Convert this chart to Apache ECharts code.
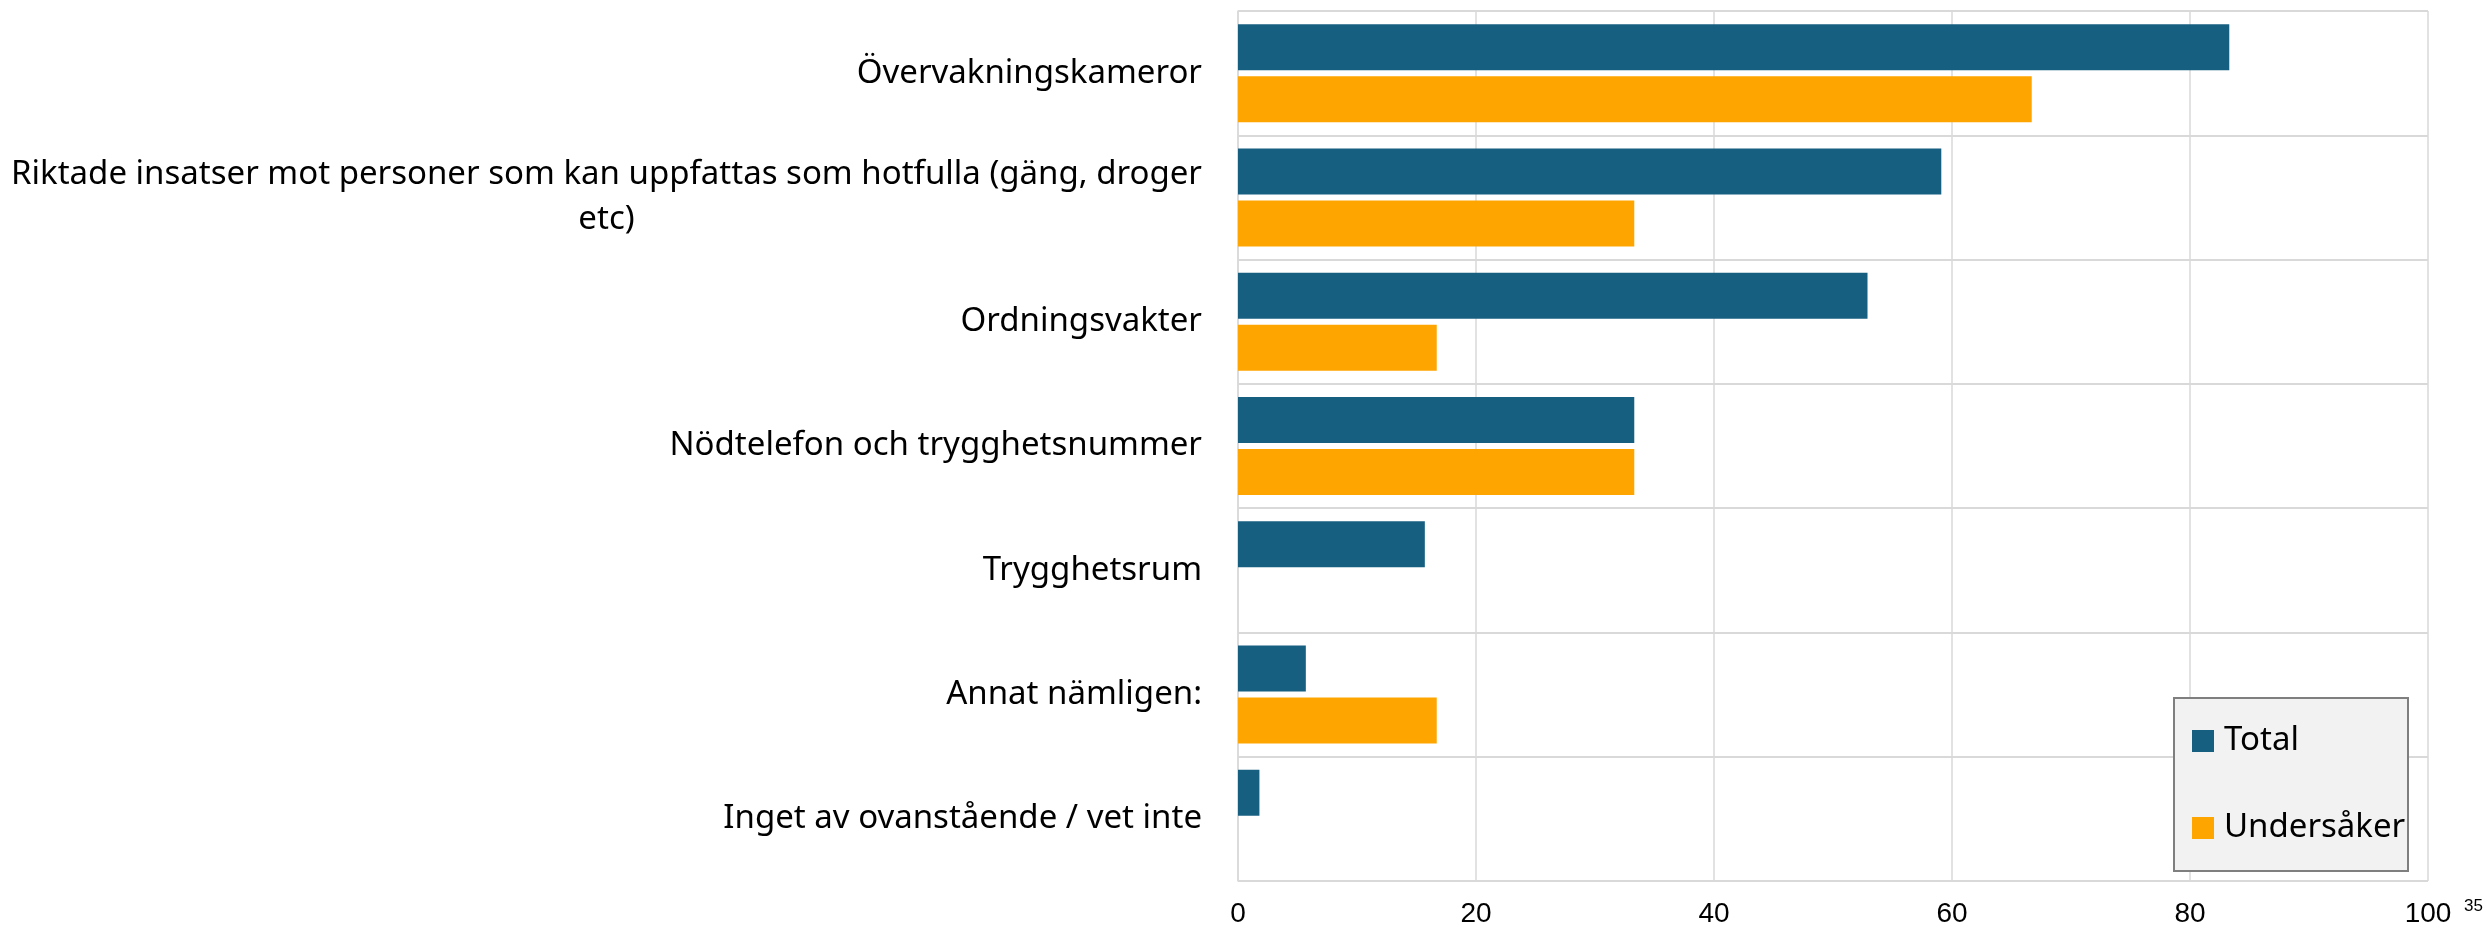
<!DOCTYPE html>
<html>
<head>
<meta charset="utf-8">
<title>Trygghetsåtgärder</title>
<script src="https://cdn.jsdelivr.net/npm/echarts@6/dist/echarts.min.js"></script>
<style>
    html, body { margin: 0; padding: 0; background: #fff; }
    #charts1 { width: 2492px; height: 929px; }
</style>
</head>
<body>
<div id="charts1"></div>
<script>
//kategorier
const categories = [
    'Övervakningskameror',
    'Riktade insatser mot personer som kan uppfattas som hotfulla (gäng, droger\netc)',
    'Ordningsvakter',
    'Nödtelefon och trygghetsnummer',
    'Trygghetsrum',
    'Annat nämligen:',
    'Inget av ovanstående / vet inte'
];
//serier (procent)
const totalValues = [83.3, 59.1, 52.9, 33.3, 15.7, 5.7, 1.8];
const undersakerValues = [66.7, 33.3, 16.7, 33.3, 0, 16.7, 0];
const seriesNames = ['Total', 'Undersåker'];
//x-axelns skalsteg
const xTicks = [0, 20, 40, 60, 80, 100];

const labelFont = '"Noto Sans", sans-serif';
const gridColor = '#d9d9d9';

let charts1 = echarts.init(document.getElementById('charts1'));
renderCharts1();

//radbrytna etiketter centreras rad för rad
function formatCategory(value) {
    return value.split('\n').map(function (line) {
        return '{c|' + line + '}';
    }).join('\n');
}

function renderCharts1() {
    let option = {
        animation: false,
        color: ['#175f80', '#ffa500'],
        grid: {
            left: 1238,
            right: 64,
            top: 11,
            bottom: 48
        },
        legend: {
            orient: 'vertical',
            left: 2192,
            top: 721,
            padding: 0,
            itemWidth: 22,
            itemHeight: 22,
            itemGap: 47,
            icon: 'rect',
            z: 5,
            data: seriesNames,
            textStyle: {
                fontFamily: labelFont,
                fontSize: 33,
                lineHeight: 40,
                padding: [0, 0, 0, 5],
                color: '#000'
            }
        },
        graphic: [
            {
                type: 'rect',
                z: 3,
                shape: { x: 2174, y: 698, width: 234, height: 173 },
                style: { fill: '#f2f2f2', stroke: '#7f7f7f', lineWidth: 2 }
            },
            {
                type: 'text',
                left: 2464,
                top: 898,
                style: {
                    text: '35',
                    fontFamily: '"Liberation Sans", Arial, sans-serif',
                    fontSize: 17,
                    fill: '#000'
                }
            }
        ],
        xAxis: {
            type: 'value',
            min: xTicks[0],
            max: xTicks[xTicks.length - 1],
            interval: xTicks[1] - xTicks[0],
            axisLine: { show: false },
            axisTick: { show: false },
            axisLabel: {
                margin: 19,
                fontFamily: '"Liberation Sans", Arial, sans-serif',
                fontSize: 28,
                color: '#000'
            },
            splitLine: {
                lineStyle: { color: gridColor, width: 1.5 }
            }
        },
        yAxis: {
            type: 'category',
            inverse: true,
            data: categories,
            axisLine: {
                show: true,
                lineStyle: { color: gridColor, width: 1.5 }
            },
            axisTick: { show: false },
            axisLabel: {
                margin: 36,
                formatter: formatCategory,
                rich: {
                    c: {
                        align: 'center',
                        fontFamily: labelFont,
                        fontSize: 33,
                        lineHeight: 45,
                        color: '#000'
                    }
                }
            },
            splitLine: {
                show: true,
                lineStyle: { color: gridColor, width: 2 }
            }
        },
        series: [
            {
                name: seriesNames[0],
                type: 'bar',
                barWidth: 46,
                barGap: '13%',
                data: totalValues
            },
            {
                name: seriesNames[1],
                type: 'bar',
                barWidth: 46,
                barGap: '13%',
                data: undersakerValues
            }
        ]
    };
    charts1.setOption(option);
}
</script>
</body>
</html>
